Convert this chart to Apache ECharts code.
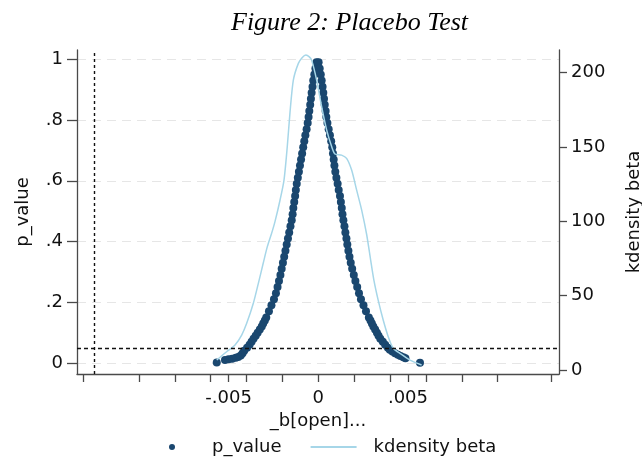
<!DOCTYPE html>
<html>
<head>
<meta charset="utf-8">
<script src="https://cdn.jsdelivr.net/npm/echarts@6/dist/echarts.min.js"></script>
<style>
html,body{margin:0;padding:0;background:#fff;}
#chart{width:642px;height:457px;}
</style>
</head>
<body>
<div id="chart"></div>
<script>
// ---- data ----
// permutation estimates (beta) and their p-values, left branch then right branch
var pBeta = [
 -0.00010,-0.00016,-0.00022,-0.00028,-0.00032,-0.00037,-0.00041,-0.00045,-0.00050,-0.00054,
 -0.00059,-0.00065,-0.00072,-0.00078,-0.00084,-0.00090,-0.00096,-0.00102,-0.00108,-0.00114,
 -0.00120,-0.00125,-0.00129,-0.00134,-0.00139,-0.00143,-0.00148,-0.00155,-0.00162,-0.00169,
 -0.00176,-0.00183,-0.00190,-0.00197,-0.00204,-0.00211,-0.00219,-0.00227,-0.00236,-0.00247,
 -0.00261,-0.00275,-0.00290,-0.00298,-0.00307,-0.00315,-0.00326,-0.00338,-0.00349,-0.00361,
 -0.00372,-0.00383,-0.00397,-0.00413,-0.00422,-0.00432,-0.00446,-0.00460,-0.00480,-0.00500,
 -0.00520,-0.00566,
 0.00002,0.00008,0.00014,0.00019,0.00024,0.00028,0.00032,0.00036,0.00041,0.00045,
 0.00051,0.00058,0.00065,0.00072,0.00078,0.00082,0.00086,0.00090,0.00095,0.00101,
 0.00108,0.00114,0.00121,0.00126,0.00131,0.00135,0.00140,0.00146,0.00151,0.00157,
 0.00162,0.00168,0.00174,0.00181,0.00189,0.00198,0.00207,0.00217,0.00227,0.00238,
 0.00252,0.00266,0.00282,0.00291,0.00299,0.00307,0.00317,0.00327,0.00336,0.00346,
 0.00360,0.00373,0.00388,0.00399,0.00413,0.00428,0.00444,0.00458,0.00474,0.00486,
 0.00567
];
var pValue = [
 0.99,0.97,0.95,0.93,0.91,0.89,0.87,0.85,0.83,0.81,
 0.79,0.77,0.75,0.73,0.71,0.69,0.67,0.65,0.63,0.61,
 0.59,0.57,0.55,0.53,0.51,0.49,0.47,0.45,0.43,0.41,
 0.39,0.37,0.35,0.33,0.31,0.29,0.27,0.25,0.23,0.21,
 0.19,0.17,0.15,0.14,0.13,0.12,0.11,0.10,0.09,0.08,
 0.07,0.06,0.05,0.04,0.032,0.025,0.020,0.017,0.014,0.012,
 0.010,0.002,
 0.99,0.97,0.95,0.93,0.91,0.89,0.87,0.85,0.83,0.81,
 0.79,0.77,0.75,0.73,0.71,0.69,0.67,0.65,0.63,0.61,
 0.59,0.57,0.55,0.53,0.51,0.49,0.47,0.45,0.43,0.41,
 0.39,0.37,0.35,0.33,0.31,0.29,0.27,0.25,0.23,0.21,
 0.19,0.17,0.15,0.14,0.13,0.12,0.11,0.10,0.09,0.08,
 0.07,0.06,0.05,0.044,0.038,0.032,0.027,0.023,0.019,0.016,
 0.001
];
// kernel density of beta
var kdBeta = [
 -0.00566,-0.00511,-0.00464,-0.00427,-0.00399,-0.00362,-0.00334,-0.00307,-0.00284,-0.00260,
 -0.00241,-0.00213,-0.00191,-0.00173,-0.00158,-0.00139,-0.00111,-0.00089,-0.00069,-0.00050,
 -0.00037,-0.00009,0.00019,0.00047,0.00075,0.00093,0.00130,0.00158,0.00186,0.00214,
 0.00242,0.00270,0.00292,0.00310,0.00334,0.00362,0.00390,0.00418,0.00455,0.00511,0.00576
];
var kdDensity = [
 6.7,12.3,16.8,23.5,31.4,44.9,58.3,71.8,83.0,92.0,
 100.0,114.4,127.8,150.0,172.7,195.0,206.3,210.3,211.9,210.7,
 208.5,195.0,177.0,161.4,150.2,145.3,144.6,142.4,134.5,121.0,
 107.6,91.0,74.0,60.5,47.0,33.6,22.4,14.6,11.2,6.7,3.4
];
// axes / ticks
var xTickValues = [-0.0131,-0.010,-0.008,-0.006,-0.005,-0.004,-0.002,0,0.002,0.004,0.005,0.006,0.008,0.010,0.0130];
var xLabelValues = [-0.005, 0, 0.005];
var xLabelTexts = ['-.005', '0', '.005'];
var yLeftValues = [0, 0.2, 0.4, 0.6, 0.8, 1];
var yLeftTexts = ['0', '.2', '.4', '.6', '.8', '1'];
var yRightValues = [0, 50, 100, 150, 200];
var refP = 0.05;        // yline
var refBeta = -0.0125;  // xline

function pick(vals, texts, v) {
  for (var i = 0; i < vals.length; i++) {
    if (Math.abs(vals[i] - v) < 1e-9) return texts[i];
  }
  return '';
}

var scatterData = pBeta.map(function (b, i) { return [b, pValue[i]]; });
var kdData = kdBeta.map(function (b, i) { return [b, kdDensity[i]]; });

var FONT = 'DejaVu Sans';
var FS = 18;
var axisColor = '#4a4a4a';
var chart = echarts.init(document.getElementById('chart'), null, {renderer: 'canvas'});
chart.setOption({
  animation: false,
  backgroundColor: '#ffffff',
  title: {
    text: 'Figure 2: Placebo Test',
    left: 226, top: 5,
    textStyle: {fontFamily: 'Liberation Serif', fontStyle: 'italic', fontWeight: 'normal', fontSize: 26, color: '#000'}
  },
  grid: {left: 77, right: 83, top: 50, bottom: 83, containLabel: false, outerBoundsMode: 'none'},
  legend: {
    left: 164, top: 433,
    itemWidth: 46, itemHeight: 6, itemGap: 28,
    textStyle: {fontFamily: FONT, fontSize: FS, color: '#111', padding: [0, 0, 0, 12]},
    data: [{name: 'p_value'}, {name: 'kdensity beta', itemStyle: {opacity: 0}}]
  },
  xAxis: {
    type: 'value', min: -0.01345, max: 0.01342,
    name: '_b[open]...', nameLocation: 'middle', nameGap: 27,
    nameTextStyle: {fontFamily: FONT, fontSize: FS, color: '#111'},
    axisLine: {show: true, onZero: false, lineStyle: {color: axisColor, width: 1.3}},
    axisTick: {show: true, length: 8, customValues: xTickValues, lineStyle: {color: axisColor, width: 1.3}},
    axisLabel: {customValues: xLabelValues, margin: 15, fontFamily: FONT, fontSize: FS, color: '#111',
      formatter: function (v) { return pick(xLabelValues, xLabelTexts, v); }},
    splitLine: {show: false}
  },
  yAxis: [{
    type: 'value', position: 'left', min: -0.0362, max: 1.0306,
    name: 'p_value', nameLocation: 'middle', nameGap: 45, nameRotate: 90,
    nameTextStyle: {fontFamily: FONT, fontSize: FS, color: '#111'},
    axisLine: {show: true, onZero: false, lineStyle: {color: axisColor, width: 1.3}},
    axisTick: {show: true, length: 10, customValues: yLeftValues, lineStyle: {color: axisColor, width: 1.3}},
    axisLabel: {customValues: yLeftValues, margin: 14, fontFamily: FONT, fontSize: FS, color: '#111',
      formatter: function (v) { return pick(yLeftValues, yLeftTexts, v); }},
    splitLine: {show: true, lineStyle: {color: '#e6e6e6', width: 1.2, type: [9, 6]}}
  }, {
    type: 'value', position: 'right', min: -2.69, max: 215.3,
    name: 'kdensity beta', nameLocation: 'middle', nameGap: 66, nameRotate: 90,
    nameTextStyle: {fontFamily: FONT, fontSize: FS, color: '#111'},
    axisLine: {show: true, onZero: false, lineStyle: {color: axisColor, width: 1.3}},
    axisTick: {show: true, length: 8, customValues: yRightValues, lineStyle: {color: axisColor, width: 1.3}},
    axisLabel: {customValues: yRightValues, margin: 12, fontFamily: FONT, fontSize: FS, color: '#111'},
    splitLine: {show: false}
  }],
  series: [{
    name: 'p_value', type: 'scatter', xAxisIndex: 0, yAxisIndex: 0,
    data: scatterData, symbol: 'circle', symbolSize: 8, z: 3,
    itemStyle: {color: '#1a476f', opacity: 1},
    markLine: {
      silent: true, symbol: ['none', 'none'], label: {show: false}, precision: 6,
      data: [
        {yAxis: refP, lineStyle: {color: '#111', width: 1.4, type: [4, 3]}},
        {xAxis: refBeta, lineStyle: {color: '#111', width: 1.4, type: [3, 3]}}
      ]
    }
  }, {
    name: 'kdensity beta', type: 'line', xAxisIndex: 0, yAxisIndex: 1,
    data: kdData, symbol: 'none', smooth: 0.25, z: 4,
    lineStyle: {color: '#a6d6e8', width: 1.5},
    itemStyle: {color: '#a6d6e8'}
  }]
});
</script>
</body>
</html>
